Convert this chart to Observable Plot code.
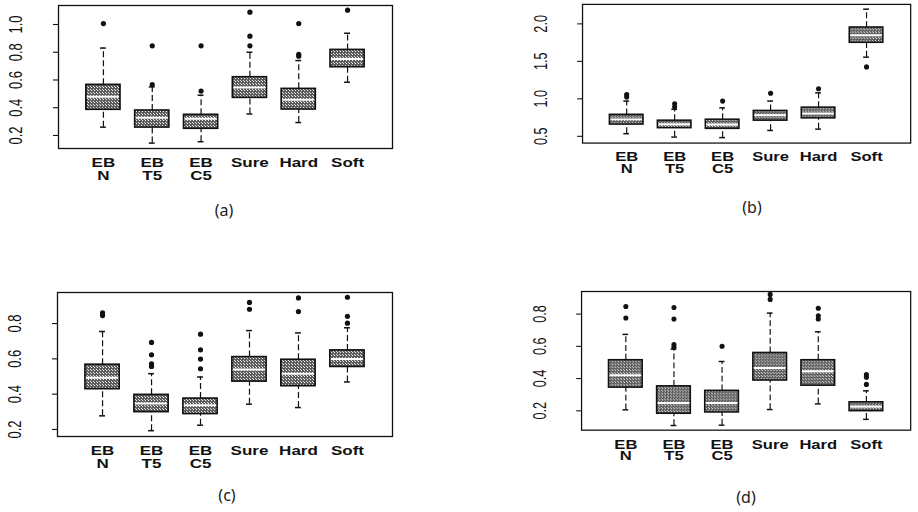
<!DOCTYPE html>
<html><head><meta charset="utf-8">
<script src="https://cdn.jsdelivr.net/npm/d3@7"></script>
<script src="https://cdn.jsdelivr.net/npm/@observablehq/plot@0.6"></script>
<style>
body{margin:0;background:#fff;}
#wrap{position:relative;width:918px;height:512px;overflow:hidden;background:#fff;}
.panel{position:absolute;}
.cap{position:absolute;font-family:"Noto Sans",sans-serif;font-size:16px;color:#222;transform:translate(-50%,-50%);white-space:nowrap;}
</style></head><body>
<svg width="0" height="0" style="position:absolute"><defs>
<pattern id="stip" width="3" height="3" patternUnits="userSpaceOnUse">
<rect width="3" height="3" fill="#5c5c5c"/><rect x="1" y="0" width="1" height="1" fill="#f2f2f2"/><rect x="0" y="2" width="1" height="1" fill="#dcdcdc"/>
</pattern></defs></svg>
<div id="wrap"></div>
<script>
const categories = ["EB\nN", "EB\nT5", "EB\nC5", "Sure", "Hard", "Soft"];
const panelLabels = ["(a)", "(b)", "(c)", "(d)"];

// Panel (a)
const aTicks = [0.2, 0.4, 0.6, 0.8, 1.0];
const aLow = [0.26, 0.145, 0.155, 0.355, 0.293, 0.584];
const aQ1  = [0.385, 0.257, 0.248, 0.471, 0.387, 0.692];
const aMed = [0.48, 0.327, 0.32, 0.546, 0.457, 0.752];
const aQ3  = [0.565, 0.38, 0.349, 0.62, 0.536, 0.817];
const aHigh = [0.83, 0.55, 0.49, 0.80, 0.74, 0.937];
const aOutIdx = [0, 1, 1, 2, 2, 3, 3, 3, 4, 4, 4, 5];
const aOutVal = [1.007, 0.846, 0.567, 0.846, 0.52, 1.089, 0.916, 0.846, 1.007, 0.784, 0.772, 1.103];

// Panel (b)
const bTicks = [0.5, 1.0, 1.5, 2.0];
const bLow = [0.535, 0.49, 0.483, 0.578, 0.596, 1.556];
const bQ1  = [0.657, 0.609, 0.6, 0.709, 0.74, 1.748];
const bMed = [0.726, 0.66, 0.657, 0.783, 0.804, 1.848];
const bQ3  = [0.787, 0.709, 0.722, 0.839, 0.883, 1.952];
const bHigh = [0.97, 0.86, 0.88, 0.97, 1.08, 2.196];
const bOutIdx = [0, 0, 1, 1, 2, 3, 4, 5];
const bOutVal = [1.057, 1.026, 0.935, 0.891, 0.97, 1.074, 1.135, 1.426];

// Panel (c)
const cTicks = [0.2, 0.4, 0.6, 0.8];
const cLow = [0.277, 0.193, 0.224, 0.343, 0.324, 0.469];
const cQ1  = [0.428, 0.298, 0.287, 0.471, 0.445, 0.554];
const cMed = [0.493, 0.347, 0.337, 0.54, 0.516, 0.599];
const cQ3  = [0.567, 0.396, 0.375, 0.61, 0.595, 0.648];
const cHigh = [0.755, 0.516, 0.497, 0.76, 0.747, 0.776];
const cOutIdx = [0, 0, 1, 1, 1, 1, 2, 2, 2, 2, 3, 3, 4, 4, 5, 5, 5];
const cOutVal = [0.86, 0.845, 0.693, 0.623, 0.572, 0.557, 0.74, 0.651, 0.599, 0.544, 0.92, 0.881, 0.945, 0.868, 0.949, 0.841, 0.802];

// Panel (d)
const dTicks = [0.2, 0.4, 0.6, 0.8];
const dLow = [0.206, 0.109, 0.111, 0.208, 0.243, 0.147];
const dQ1  = [0.344, 0.182, 0.19, 0.388, 0.356, 0.198];
const dMed = [0.421, 0.249, 0.249, 0.465, 0.445, 0.226];
const dQ3  = [0.514, 0.352, 0.324, 0.559, 0.514, 0.253];
const dHigh = [0.674, 0.583, 0.506, 0.806, 0.69, 0.324];
const dOutIdx = [0, 0, 1, 1, 1, 1, 2, 3, 3, 4, 4, 4, 5, 5, 5];
const dOutVal = [0.847, 0.776, 0.841, 0.77, 0.611, 0.595, 0.6, 0.922, 0.891, 0.836, 0.79, 0.77, 0.425, 0.409, 0.364];

const NS = "http://www.w3.org/2000/svg";
const catFlat = categories.map(c => c.replace("\n", ""));

// squash a text about a reference point of its box (mimics the scan's aspect ratio)
function squash(el, sx, sy, anchorTop) {
  const g = document.createElementNS(NS, "g");
  el.parentNode.insertBefore(g, el);
  g.appendChild(el);
  const bb = g.getBBox();
  const cx = bb.x + bb.width / 2;
  const cy = anchorTop ? bb.y : bb.y + bb.height / 2;
  g.setAttribute("transform", `translate(${cx},${cy}) scale(${sx},${sy}) translate(${-cx},${-cy})`);
}

function panel(cfg) {
  const rows = categories.map((c, i) => ({i: i + 1, low: cfg.low[i], q1: cfg.q1[i], med: cfg.med[i], q3: cfg.q3[i], hi: cfg.hi[i]}));
  const outs = cfg.outIdx.map((k, j) => ({i: k + 1, v: cfg.outVal[j]}));
  const svg = Plot.plot({
    width: cfg.width, height: cfg.height,
    marginLeft: cfg.ml, marginRight: cfg.mr, marginTop: cfg.mt, marginBottom: cfg.mb,
    x: {type: "linear", domain: [0.08, 6.92], label: null},
    y: {type: "linear", domain: cfg.yDomain, label: null},
    style: {fontFamily: "'Liberation Sans', Arial, sans-serif", color: "#111", background: "transparent", overflow: "visible"},
    marks: [
      Plot.axisY({ticks: cfg.ticks, tickSize: 5, tickFormat: () => "", label: null, stroke: "#111", strokeWidth: 1.1}),
      Plot.text(cfg.ticks, {y: d => d, frameAnchor: "left", dx: -42, rotate: -90, text: d => d.toFixed(1), fontSize: 18, fill: "#111", textAnchor: "middle", lineAnchor: "middle"}),
      Plot.axisX({ticks: [1, 2, 3, 4, 5, 6], tickFormat: i => categories[i - 1], tickSize: 0, tickPadding: 11, fontSize: 17, fontWeight: "bold", label: null, lineHeight: 1, fill: "#111"}),
      Plot.ruleX(rows, {x: "i", y1: "q3", y2: "hi", stroke: "#111", strokeWidth: 1.2, strokeDasharray: "6,3"}),
      Plot.ruleX(rows, {x: "i", y1: "low", y2: "q1", stroke: "#111", strokeWidth: 1.2, strokeDasharray: "6,3"}),
      Plot.ruleY(rows, {y: "hi", x1: d => d.i - 0.06, x2: d => d.i + 0.06, stroke: "#111", strokeWidth: 1.5}),
      Plot.ruleY(rows, {y: "low", x1: d => d.i - 0.06, x2: d => d.i + 0.06, stroke: "#111", strokeWidth: 1.5}),
      Plot.rect(rows, {x1: d => d.i - 0.35, x2: d => d.i + 0.35, y1: "q1", y2: "q3", fill: "url(#stip)", stroke: "#111", strokeWidth: 1.6}),
      Plot.ruleY(rows, {y: "med", x1: d => d.i - 0.33, x2: d => d.i + 0.33, stroke: "#fff", strokeWidth: 2}),
      Plot.dot(outs, {x: "i", y: "v", r: 2.6, fill: "#111", stroke: null}),
      Plot.frame({stroke: "#111", strokeWidth: 1.3})
    ]
  });
  const div = document.createElement("div");
  div.className = "panel";
  div.style.left = cfg.left + "px";
  div.style.top = cfg.top + "px";
  div.appendChild(svg);
  document.getElementById("wrap").appendChild(div);
  Array.from(svg.querySelectorAll("text")).forEach(el => {
    const s = el.textContent.trim();
    if (/^\d\.\d$/.test(s)) squash(el, 1, 0.72, false);
    else if (catFlat.includes(s)) squash(el, 1, 0.72, true);
  });
  const cap = document.createElement("div");
  cap.className = "cap";
  cap.textContent = cfg.label;
  cap.style.left = cfg.capX + "px";
  cap.style.top = cfg.capY + "px";
  document.getElementById("wrap").appendChild(cap);
}

panel({label: panelLabels[0], left: 0, top: 0, width: 459, height: 190, ml: 58, mr: 67, mt: 5, mb: 42,
  yDomain: [0.106, 1.137], ticks: aTicks, low: aLow, q1: aQ1, med: aMed, q3: aQ3, hi: aHigh, outIdx: aOutIdx, outVal: aOutVal, capX: 224, capY: 210});
panel({label: panelLabels[1], left: 459, top: 0, width: 470, height: 190, ml: 126, mr: 8, mt: 4, mb: 44,
  yDomain: [0.41, 2.26], ticks: bTicks, low: bLow, q1: bQ1, med: bMed, q3: bQ3, hi: bHigh, outIdx: bOutIdx, outVal: bOutVal, capX: 752, capY: 207});
panel({label: panelLabels[2], left: 0, top: 250, width: 459, height: 240, ml: 57, mr: 67, mt: 42, mb: 54,
  yDomain: [0.16, 0.976], ticks: cTicks, low: cLow, q1: cQ1, med: cMed, q3: cQ3, hi: cHigh, outIdx: cOutIdx, outVal: cOutVal, capX: 227, capY: 495});
panel({label: panelLabels[3], left: 459, top: 250, width: 470, height: 240, ml: 125, mr: 8, mt: 42, mb: 56,
  yDomain: [0.08, 0.94], ticks: dTicks, low: dLow, q1: dQ1, med: dMed, q3: dQ3, hi: dHigh, outIdx: dOutIdx, outVal: dOutVal, capX: 746, capY: 497});
</script>
</body></html>
